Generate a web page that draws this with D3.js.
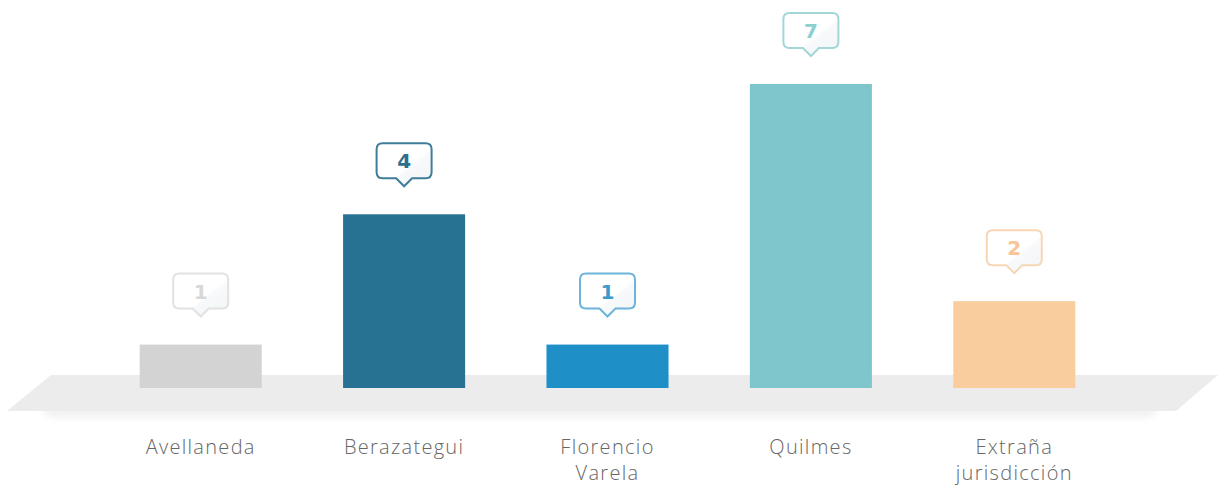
<!DOCTYPE html>
<html><head><meta charset="utf-8">
<script src="https://cdn.jsdelivr.net/npm/d3@7"></script>
<style>body{margin:0;background:#fff}svg{display:block}</style>
</head><body>
<script>
const categories = ["Avellaneda", "Berazategui", "Florencio Varela", "Quilmes", "Extraña jurisdicción"];
const labelLines = [["Avellaneda"], ["Berazategui"], ["Florencio", "Varela"], ["Quilmes"], ["Extraña", "jurisdicción"]];
const values = [1, 4, 1, 7, 2];
const barColors = ["#d3d3d3", "#277293", "#1f8fc8", "#7fc6cc", "#facd9f"];
const calloutStroke = ["#e2e2e2", "#3f7e99", "#6db4da", "#a3d6d7", "#f8d6b4"];
const calloutText = ["#d8d8d8", "#2d6f8d", "#3d9acc", "#8ccfcf", "#f9c496"];

const W = 1218, H = 485;
const svg = d3.select("body").append("svg").attr("width", W).attr("height", H);
const defs = svg.append("defs");
const blur = defs.append("filter").attr("id", "blur").attr("x", "-10%").attr("y", "-200%").attr("width", "120%").attr("height", "500%");
blur.append("feGaussianBlur").attr("stdDeviation", 4);
const grad = defs.append("linearGradient").attr("id", "cg").attr("x1", 0).attr("y1", 0).attr("x2", 1).attr("y2", 1);
grad.append("stop").attr("offset", "0%").attr("stop-color", "#ffffff");
grad.append("stop").attr("offset", "55%").attr("stop-color", "#ffffff");
grad.append("stop").attr("offset", "60%").attr("stop-color", "#f7f9fa");
grad.append("stop").attr("offset", "100%").attr("stop-color", "#f2f5f6");

const x = d3.scaleBand().domain(categories).range([99, 1116]).paddingInner(0.4).paddingOuter(0.2);
const y = d3.scaleLinear().domain([0, 7]).range([388, 84]);

// floor shadow
svg.append("path").attr("d", "M40,408 L1160,408 L1150,416 L50,416 Z").attr("fill", "#d8d8d8").attr("filter", "url(#blur)").attr("opacity", 0.5);
// floor
svg.append("path").attr("d", "M51,375 L1218,375 L1176,411 L7,411 Z").attr("fill", "#ececec");

const g = svg.append("g");
g.selectAll("rect").data(values).join("rect")
  .attr("x", (d, i) => x(categories[i]))
  .attr("width", x.bandwidth())
  .attr("y", d => y(d))
  .attr("height", d => y(0) - y(d))
  .attr("fill", (d, i) => barColors[i]);

// callouts
const cw = 55, ch = 35, r = 6, pw = 8, ph = 8;
function calloutPath(cx, bottom) {
  const l = cx - cw / 2, rr = cx + cw / 2, t = bottom - ch, b = bottom;
  return `M${l + r},${t} H${rr - r} Q${rr},${t} ${rr},${t + r} V${b - r} Q${rr},${b} ${rr - r},${b} H${cx + pw} L${cx},${b + ph} L${cx - pw},${b} H${l + r} Q${l},${b} ${l},${b - r} V${t + r} Q${l},${t} ${l + r},${t} Z`;
}
values.forEach((v, i) => {
  const cx = x(categories[i]) + x.bandwidth() / 2;
  const bottom = y(v) - 36;
  g.append("path").attr("d", calloutPath(cx, bottom))
    .attr("fill", "url(#cg)").attr("stroke", calloutStroke[i]).attr("stroke-width", 2);
  g.append("text").attr("x", cx).attr("y", bottom - ch / 2 + 7.5)
    .attr("text-anchor", "middle").attr("font-family", "'DejaVu Sans', sans-serif")
    .attr("font-weight", 700).attr("font-size", 20).attr("fill", calloutText[i]).text(v);
});

// labels
labelLines.forEach((lines, i) => {
  const cx = x(categories[i]) + x.bandwidth() / 2;
  const t = g.append("text").attr("text-anchor", "middle")
    .attr("font-family", "'Open Sans', sans-serif").attr("font-weight", 300)
    .attr("font-size", 20).attr("fill", "#666666").attr("letter-spacing", 1.3);
  lines.forEach((ln, j) => t.append("tspan").attr("x", cx).attr("y", 454 + j * 26).text(ln));
});
</script>
</body></html>
